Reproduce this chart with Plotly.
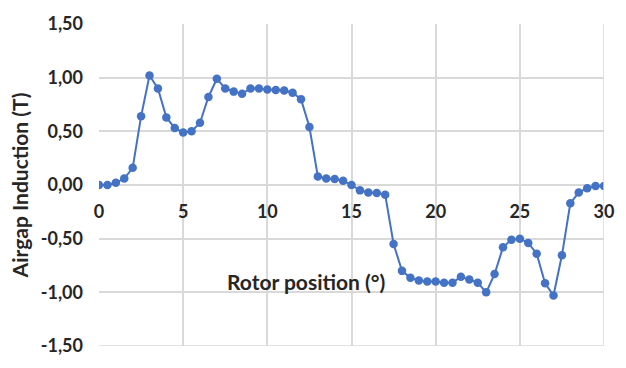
import plotly.graph_objects as go

# Rotor position in degrees (0.5° steps) and measured airgap flux density
rotor_position = [i * 0.5 for i in range(61)]
airgap_induction = [
    0.00, 0.00, 0.02, 0.06, 0.16, 0.64, 1.02, 0.90, 0.63, 0.53,
    0.49, 0.50, 0.58, 0.82, 0.99, 0.90, 0.87, 0.85, 0.90, 0.90,
    0.89, 0.885, 0.88, 0.86, 0.80, 0.54, 0.08, 0.06, 0.055, 0.04,
    0.00, -0.05, -0.07, -0.075, -0.09, -0.55, -0.80, -0.865, -0.89, -0.90,
    -0.90, -0.91, -0.91, -0.855, -0.88, -0.91, -1.00, -0.83, -0.58, -0.51,
    -0.50, -0.54, -0.64, -0.915, -1.03, -0.655, -0.17, -0.07, -0.03, -0.01,
    -0.01,
]

x_ticks = [0, 5, 10, 15, 20, 25, 30]
y_ticks = [-1.5, -1.0, -0.5, 0.0, 0.5, 1.0, 1.5]

LINE_BLUE = "#4472C4"
GRID = "#d9d9d9"
TEXT = "#262626"
TICK_FONT = dict(family="Lato", size=18, color=TEXT)
TITLE_FONT = dict(family="Lato", size=21, color=TEXT)


def bold(s):
    return f"<b>{s}</b>"


fig = go.Figure()
fig.add_trace(go.Scatter(
    x=rotor_position,
    y=airgap_induction,
    mode="lines+markers",
    line=dict(color=LINE_BLUE, width=2),
    marker=dict(color=LINE_BLUE, size=8.5),
    showlegend=False,
))

fig.update_layout(
    width=626,
    height=368,
    margin=dict(l=99, r=21, t=14, b=13),
    paper_bgcolor="white",
    plot_bgcolor="white",
    font=TICK_FONT,
    xaxis=dict(
        range=[0, 30],
        tickvals=x_ticks,
        ticktext=[bold(v) for v in x_ticks],
        showgrid=True,
        gridcolor=GRID,
        gridwidth=1.5,
        zeroline=False,
        showline=False,
        anchor="free",
        position=0.5,
        ticks="",
        ticklabelstandoff=14,
        tickfont=TICK_FONT,
    ),
    yaxis=dict(
        range=[-1.5, 1.5],
        tickvals=y_ticks,
        ticktext=[bold(f"{v:.2f}".replace(".", ",")) for v in y_ticks],
        showgrid=True,
        gridcolor=GRID,
        gridwidth=1.5,
        zeroline=False,
        showline=False,
        ticks="",
        ticklabelstandoff=15,
        tickfont=TICK_FONT,
        title=dict(text=bold("Airgap Induction (T)"), font=TITLE_FONT, standoff=6),
    ),
    shapes=[
        dict(type="line", xref="x", yref="y", x0=30, x1=30, y0=-1.5, y1=1.5,
             line=dict(color=GRID, width=1.5)),
        dict(type="line", xref="x", yref="y", x0=0, x1=30, y0=-1.5, y1=-1.5,
             line=dict(color=GRID, width=1.5)),
    ],
    annotations=[
        dict(text=bold("Rotor position (°)"), x=12.27, y=-0.9, xref="x", yref="y",
             showarrow=False, font=TITLE_FONT),
    ],
)

fig.write_html("out.html")
